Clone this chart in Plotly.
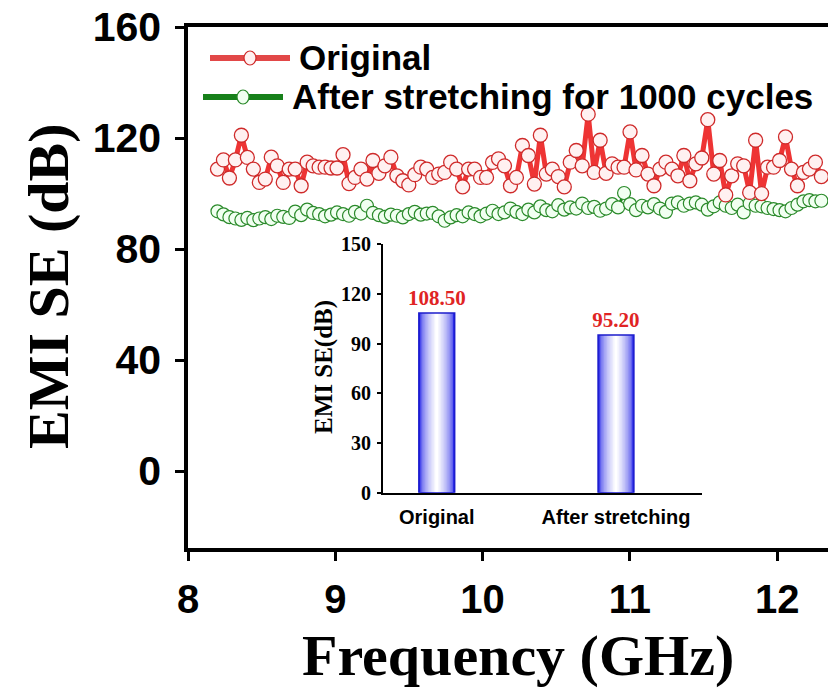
import numpy as np
import plotly.graph_objects as go

# EMI shielding effectiveness over the X band, dB (visible part of the sweep)
se_original = [108.8, 112.1, 105.6, 112.1, 121.0, 113.0, 108.8, 104.0, 105.2, 113.1,
               110.0, 104.0, 108.8, 108.8, 102.8, 111.3, 110.0, 109.5, 109.5, 109.2,
               109.2, 114.0, 103.6, 105.8, 108.8, 105.2, 111.9, 107.3, 110.0, 113.1,
               106.4, 104.6, 103.1, 106.8, 109.5, 108.8, 105.8, 107.0, 107.6, 111.3,
               108.8, 102.4, 108.8, 108.8, 105.8, 105.8, 111.2, 112.5, 110.0, 102.8,
               105.8, 117.3, 113.7, 103.4, 121.0, 107.0, 108.8, 106.1, 102.4, 111.3,
               115.5, 110.0, 128.6, 107.6, 119.2, 107.3, 110.7, 109.5, 109.5, 122.2,
               108.5, 113.7, 107.0, 102.8, 108.8, 111.3, 108.8, 106.4, 113.7, 104.6,
               110.7, 112.8, 126.6, 107.0, 111.9, 99.5, 106.4, 110.7, 110.0, 100.4,
               119.2, 100.0, 109.5, 109.5, 111.9, 120.4, 108.8, 102.8, 107.6, 108.8,
               111.3, 106.1]

se_stretched = [93.6, 92.5, 91.5, 91.0,
                90.5, 91.2, 90.4, 91.0, 91.5, 90.8, 92.0, 91.6, 91.2,
                93.5, 92.2, 94.2, 93.0, 92.6, 91.8,
                92.4, 93.2, 92.6, 92.0, 93.4, 92.8, 95.6,
                93.0, 92.2, 91.6, 92.4, 92.0, 91.4, 92.6, 93.4, 92.4, 92.8,
                93.0, 91.8, 90.2, 91.4, 92.2, 91.8, 93.2,
                92.6, 91.8, 92.8, 93.8, 92.6, 93.2, 94.6, 93.4, 92.6,
                94.2, 93.2, 95.4, 94.0, 93.6, 95.8, 94.2, 95.0,
                94.6, 96.4, 94.8, 95.2, 93.8, 94.6, 96.2, 95.0,
                100.2, 96.2,
                94.0, 95.6, 95.0, 96.2, 94.6, 93.4, 96.4,
                96.8, 95.6, 96.4, 96.8, 96.0, 94.2, 95.4, 96.8,
                95.6, 94.8, 96.0, 93.2, 96.4, 95.6, 95.4,
                94.8, 94.4, 94.0, 93.6, 94.8, 96.0, 97.2, 97.6, 97.2, 97.4]

freq = np.linspace(8.2, 12.3, len(se_original))

series_names = ["Original", "After stretching for 1000 cycles"]
x_ticks = [8, 9, 10, 11, 12]
y_ticks = [0, 40, 80, 120, 160]

# Inset: average SE before / after stretching
inset_labels = ["Original", "After stretching"]
inset_values = [108.50, 95.20]
inset_ticks = [0, 30, 60, 90, 120, 150]

W, H = 828, 691
L, R, T, B = 188, 828, 27, 548
PX_PER_GHZ = 147.3


def px(x):
    return (x - L) / (R - L)


def py(y):
    return (B - y) / (B - T)


SANS = "Liberation Sans"
SERIF = "Liberation Serif"

RED_LINE, RED_EDGE, RED_FILL = "#ee3434", "#cf2a2a", "#fff1f1"
GRN_LINE, GRN_EDGE, GRN_FILL = "#1e8a1e", "#2a8a2a", "#f1fff1"

fig = go.Figure()

fig.add_trace(go.Scatter(
    x=freq, y=se_stretched, mode="lines+markers", name=series_names[1],
    line=dict(color=GRN_LINE, width=3),
    marker=dict(symbol="circle", size=13, color=GRN_FILL,
                line=dict(color=GRN_EDGE, width=1.2)),
    cliponaxis=True, showlegend=False))

fig.add_trace(go.Scatter(
    x=freq, y=se_original, mode="lines+markers", name=series_names[0],
    line=dict(color=RED_LINE, width=5),
    marker=dict(symbol="circle", size=14, color=RED_FILL,
                line=dict(color=RED_EDGE, width=1.3)),
    cliponaxis=True, showlegend=False))

# Inset bars with a blue-white-blue cylinder shading built from nested bars
blue = np.array([30, 30, 232])
white = np.array([255, 255, 255])
bar_w = 0.2
n_layers = 12
for k in range(n_layers):
    t = k / (n_layers - 1)
    w = bar_w * (1 - 0.92 * t)
    c = blue + (white - blue) * (t ** 0.5)
    fig.add_trace(go.Bar(
        x=[0, 1], y=inset_values, width=w, xaxis="x2", yaxis="y2",
        marker=dict(color="rgb(%d,%d,%d)" % tuple(c.astype(int)), line=dict(width=0)),
        showlegend=False, hoverinfo="skip"))

fig.add_trace(go.Bar(
    x=[0, 1], y=inset_values, width=bar_w, xaxis="x2", yaxis="y2",
    marker=dict(color="rgba(0,0,0,0)", line=dict(color="#1c1ccc", width=1.5)),
    text=["%.2f" % v for v in inset_values], texttemplate="%{text}",
    textposition="outside", constraintext="none", cliponaxis=False,
    textfont=dict(family=SERIF, size=21, color="#e02424", weight="bold"),
    showlegend=False))

fig.update_layout(
    width=W, height=H,
    margin=dict(l=L, r=W - R, t=T, b=H - B, pad=0),
    paper_bgcolor="white", plot_bgcolor="white",
    barmode="overlay",
    xaxis=dict(range=[8, 8 + (R - L) / PX_PER_GHZ], tickvals=x_ticks,
               ticks="outside", ticklen=9, tickwidth=3, tickcolor="black",
               showline=True, linewidth=3.5, linecolor="black", mirror=True,
               showgrid=False, zeroline=False, ticklabelstandoff=4,
               tickfont=dict(family=SANS, size=40, color="black", weight="bold")),
    yaxis=dict(range=[-27.7, 160], tickvals=y_ticks,
               ticks="outside", ticklen=9, tickwidth=3, tickcolor="black",
               showline=True, linewidth=3.5, linecolor="black",
               showgrid=False, zeroline=False, ticklabelstandoff=6,
               tickfont=dict(family=SANS, size=41, color="black", weight="bold")),
    xaxis2=dict(domain=[px(383), px(702)], anchor="y2", range=[-0.3, 1.48],
                tickvals=[0, 1], ticktext=inset_labels, ticks="",
                showline=True, linewidth=2, linecolor="black",
                showgrid=False, zeroline=False, ticklabelstandoff=5,
                tickfont=dict(family=SANS, size=20, color="black", weight="bold")),
    yaxis2=dict(domain=[py(492.7), py(244.3)], anchor="x2", range=[0, 150],
                tickvals=inset_ticks, ticks="outside", ticklen=4, tickwidth=1.5,
                tickcolor="black", showline=True, linewidth=2, linecolor="black",
                showgrid=False, zeroline=False, ticklabelstandoff=2,
                tickfont=dict(family=SERIF, size=20, color="black", weight="bold")),
)

annotations = [
    dict(text="Frequency (GHz)", xref="paper", yref="paper", x=px(518), y=py(655),
         xanchor="center", yanchor="middle", showarrow=False,
         font=dict(family=SERIF, size=58, color="black", weight="bold")),
    dict(text="EMI SE (dB)", xref="paper", yref="paper", x=px(48), y=py(286),
         xanchor="center", yanchor="middle", textangle=-90, showarrow=False,
         font=dict(family=SERIF, size=58, color="black", weight="bold")),
    dict(text="EMI SE(dB)", xref="paper", yref="paper", x=px(324), y=py(367),
         xanchor="center", yanchor="middle", textangle=-90, showarrow=False,
         font=dict(family=SERIF, size=25, color="black", weight="bold")),
]

# Legend drawn as line + symbol + label
legend_rows = [
    (series_names[0], 58, 210, 290, "#e24848", RED_EDGE, RED_FILL),
    (series_names[1], 97, 203, 283, "#17801a", GRN_EDGE, GRN_FILL),
]
shapes = []
for name, yc, x0, x1, lc, ec, fc in legend_rows:
    shapes.append(dict(type="line", xref="paper", yref="paper",
                       x0=px(x0), x1=px(x1), y0=py(yc), y1=py(yc),
                       line=dict(color=lc, width=6)))
    shapes.append(dict(type="circle", xref="paper", yref="paper",
                       xsizemode="pixel", ysizemode="pixel",
                       xanchor=px((x0 + x1) / 2), yanchor=py(yc),
                       x0=-6, x1=6, y0=-7, y1=7,
                       fillcolor=fc, line=dict(color=ec, width=1.2)))
    annotations.append(dict(text=name, xref="paper", yref="paper",
                            x=px(x1 + 7), y=py(yc), xanchor="left", yanchor="middle",
                            showarrow=False,
                            font=dict(family=SANS, size=35, color="black", weight="bold")))

fig.update_layout(annotations=annotations, shapes=shapes)

fig.write_html("out.html")
